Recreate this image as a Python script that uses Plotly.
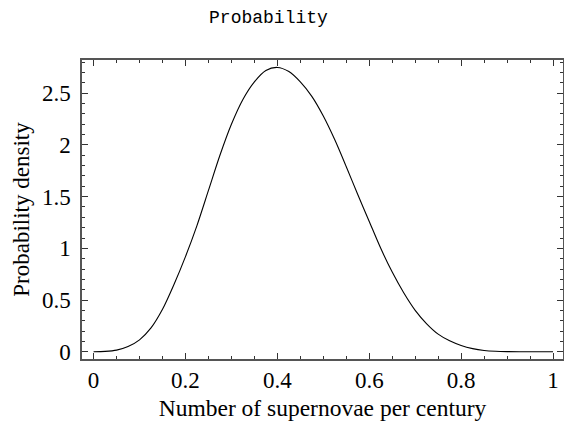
import plotly.graph_objects as go

# rate of supernovae per century
rate = [0, 0.025, 0.05, 0.075, 0.1, 0.125, 0.15, 0.175, 0.2, 0.225, 0.25, 0.275,
        0.3, 0.325, 0.35, 0.375, 0.4, 0.425, 0.45, 0.475, 0.5, 0.525, 0.55, 0.575,
        0.6, 0.625, 0.65, 0.675, 0.7, 0.725, 0.75, 0.775, 0.8, 0.825, 0.85, 0.875,
        0.9, 0.95, 1.0]
density = [0, 0.003, 0.015, 0.05, 0.115, 0.23, 0.41, 0.65, 0.92, 1.22, 1.56, 1.90,
           2.20, 2.44, 2.61, 2.72, 2.75, 2.71, 2.61, 2.47, 2.28, 2.05, 1.79, 1.52,
           1.26, 1.00, 0.77, 0.57, 0.40, 0.27, 0.17, 0.105, 0.06, 0.03, 0.012, 0.004,
           0.001, 0, 0]

x_ticks = [0, 0.2, 0.4, 0.6, 0.8, 1]
x_labels = ['0', '0.2', '0.4', '0.6', '0.8', '1']
y_ticks = [0, 0.5, 1, 1.5, 2, 2.5]
y_labels = ['0', '0.5', '1', '1.5', '2', '2.5']

serif = 'Liberation Serif, Times New Roman, serif'

fig = go.Figure(go.Scatter(x=rate, y=density, mode='lines',
                           line=dict(color='black', width=1.1, shape='spline', smoothing=0.8)))

axis_common = dict(
    showgrid=False, zeroline=False, showline=True, linecolor='#555', linewidth=1.5,
    mirror='allticks', ticks='inside', ticklen=6, tickwidth=1, tickcolor='#333',
    tickfont=dict(family=serif, size=23, color='black'), automargin=False,
)

fig.update_xaxes(
    range=[-0.0252, 1.0217], tickvals=x_ticks, ticktext=x_labels,
    minor=dict(dtick=0.05, ticks='inside', ticklen=3, tickcolor='#333'),
    title=dict(text='Number of supernovae per century', standoff=7,
               font=dict(family=serif, size=23.5, color='black')),
    **axis_common
)
fig.update_yaxes(
    range=[-0.0706, 2.822], tickvals=y_ticks, ticktext=y_labels,
    minor=dict(dtick=0.1, ticks='inside', ticklen=3, tickcolor='#333'),
    ticklabelstandoff=5,
    title=dict(text='Probability density', standoff=6,
               font=dict(family=serif, size=23, color='black')),
    **axis_common
)

fig.update_layout(
    width=564, height=424,
    margin=dict(l=82, r=1, t=60, b=65),
    paper_bgcolor='white', plot_bgcolor='white',
    showlegend=False,
    title=dict(text='Probability', x=0.476, xanchor='center', xref='container',
               y=0.96, yanchor='middle',
               font=dict(family='Liberation Mono, Courier New, monospace', size=18, color='black')),
)

fig.write_html("out.html", config={'displayModeBar': False},
               post_script="document.body.style.margin='0';")
